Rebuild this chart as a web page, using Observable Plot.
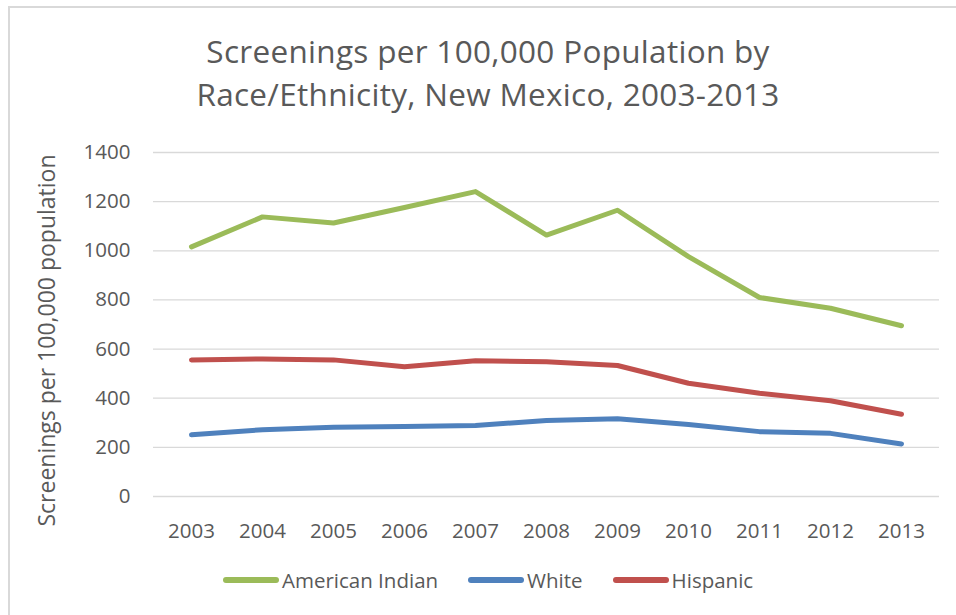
<!DOCTYPE html>
<html>
<head>
<meta charset="utf-8">
<script src="https://cdn.jsdelivr.net/npm/d3@7"></script>
<script src="https://cdn.jsdelivr.net/npm/@observablehq/plot@0.6"></script>
<style>
  html, body { margin: 0; padding: 0; background: #fff; }
  #wrap { position: relative; width: 956px; height: 615px; overflow: hidden; font-family: "Open Sans", sans-serif; color: #595959; }
  #border { position: absolute; left: 8px; top: 6px; width: 960px; height: 620px; border-left: 2px solid #D9D9D9; border-top: 2px solid #D9D9D9; }
  #title { position: absolute; left: 138px; width: 700px; top: 28.6px; text-align: center; font-size: 31.5px; line-height: 43px; letter-spacing: 0.3px; font-weight: 400; color: #595959; }
  #chart { position: absolute; left: 0; top: 130px; }
  #legend { position: absolute; left: 223px; top: 566px; height: 28px; display: flex; align-items: center; font-size: 20.5px; color: #595959; white-space: nowrap; }
  .item { display: flex; align-items: center; margin-right: 30px; }
  .sw { width: 56px; height: 6px; border-radius: 3px; margin-right: 3px; }
</style>
</head>
<body>
<div id="wrap">
  <div id="border"></div>
  <div id="title">Screenings per 100,000 Population by<br>Race/Ethnicity, New Mexico, 2003-2013</div>
  <div id="chart"></div>
  <div id="legend"></div>
</div>
<script>
const years = ["2003","2004","2005","2006","2007","2008","2009","2010","2011","2012","2013"];
const americanIndian = [1016, 1138, 1113, 1176, 1241, 1064, 1165, 976, 810, 766, 695];
const white = [251, 272, 282, 285, 289, 309, 316, 293, 264, 257, 214];
const hispanic = [556, 560, 556, 528, 552, 548, 533, 461, 420, 390, 335];
const seriesNames = ["American Indian", "White", "Hispanic"];
const seriesColors = ["#9BBB59", "#4F81BD", "#C0504D"];
const yTicks = [0, 200, 400, 600, 800, 1000, 1200, 1400];
const yLabel = "Screenings per 100,000 population";

const seriesValues = [americanIndian, white, hispanic];
const data = seriesNames.flatMap((name, s) =>
  years.map((year, i) => ({series: name, year, value: seriesValues[s][i]})));

const chart = Plot.plot({
  width: 956,
  height: 430,
  marginTop: 22,
  marginBottom: 64,
  marginLeft: 153,
  marginRight: 17,
  style: {fontFamily: "'Open Sans', sans-serif", fontSize: "20.5px", color: "#595959", background: "transparent", overflow: "visible"},
  x: {type: "point", domain: years, padding: 0.5, label: null},
  y: {domain: [0, 1400], label: null},
  color: {domain: seriesNames, range: seriesColors},
  marks: [
    Plot.ruleY(yTicks, {stroke: "#D9D9D9", strokeWidth: 1.3}),
    Plot.axisY(yTicks, {tickSize: 0, tickPadding: 23, label: null, fill: "#595959", tickFormat: d => String(d)}),
    Plot.axisX(years, {tickSize: 0, tickPadding: 27, label: null, fill: "#595959"}),
    Plot.line(data, {x: "year", y: "value", z: "series", stroke: "series", strokeWidth: 5, strokeLinecap: "round", strokeLinejoin: "round"}),
    Plot.text([yLabel], {frameAnchor: "left", textAnchor: "middle", rotate: -90, dx: -106, dy: 16, fill: "#595959", fontSize: 23})
  ]
});
document.getElementById("chart").appendChild(chart);

const legend = document.getElementById("legend");
seriesNames.forEach((name, i) => {
  const item = document.createElement("div");
  item.className = "item";
  const sw = document.createElement("div");
  sw.className = "sw";
  sw.style.background = seriesColors[i];
  const label = document.createElement("span");
  label.textContent = name;
  item.appendChild(sw);
  item.appendChild(label);
  legend.appendChild(item);
});
</script>
</body>
</html>
